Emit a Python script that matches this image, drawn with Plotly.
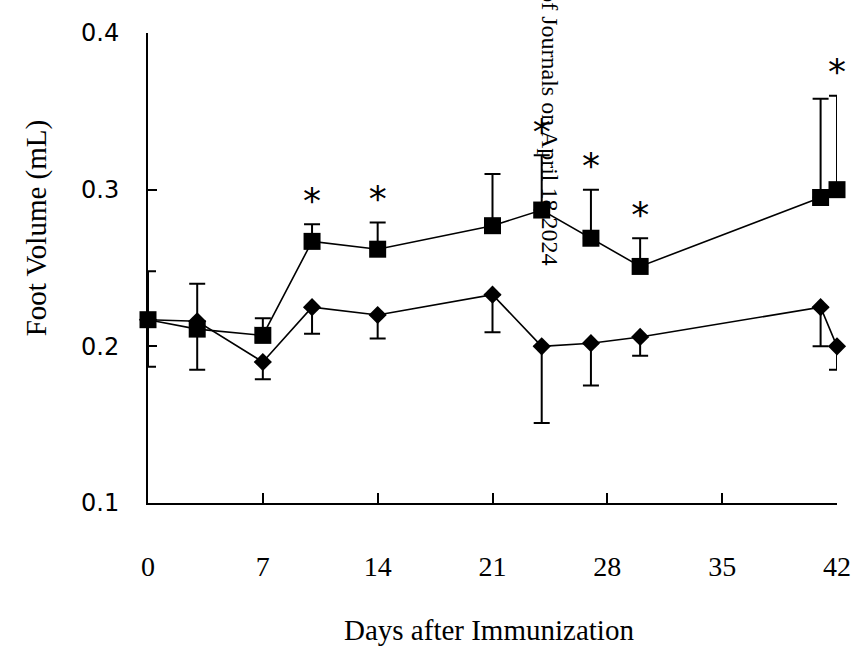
import plotly.graph_objects as go

# Data
sq_days = [0, 3, 7, 10, 14, 21, 24, 27, 30, 41, 42]
sq_vals = [0.217, 0.211, 0.207, 0.267, 0.262, 0.277, 0.287, 0.269, 0.251, 0.295, 0.300]
sq_err_up = [0.031, 0.029, 0.011, 0.011, 0.017, 0.033, 0.035, 0.031, 0.018, 0.063, 0.060]

dm_days = [0, 3, 7, 10, 14, 21, 24, 27, 30, 41, 42]
dm_vals = [0.217, 0.216, 0.190, 0.225, 0.220, 0.233, 0.200, 0.202, 0.206, 0.225, 0.200]
dm_err_dn = [0.030, 0.031, 0.011, 0.017, 0.015, 0.024, 0.049, 0.027, 0.012, 0.025, 0.015]

star_days = [10, 14, 24, 27, 30, 42]

x_ticks = [0, 7, 14, 21, 28, 35, 42]
y_ticks = [0.1, 0.2, 0.3, 0.4]
y_tick_text = ["0.1", "0.2", "0.3", "0.4"]

star_y = [sq_vals[sq_days.index(d)] + sq_err_up[sq_days.index(d)] + 0.013 for d in star_days]

W, H = 863, 649
ML, MR, MT, MB = 148, 18, 33, 146
pw = W - ML - MR
ph = H - MT - MB


def px(x):
    return (x - ML) / pw


def py(y):
    return (H - MB - y) / ph


fig = go.Figure()

fig.add_trace(go.Scatter(
    x=dm_days, y=dm_vals, mode="lines+markers",
    line=dict(color="black", width=1.6),
    marker=dict(symbol="diamond", size=14, color="black"),
    error_y=dict(type="data", symmetric=False, array=[0]*len(dm_err_dn),
                 arrayminus=dm_err_dn, color="black", thickness=2, width=8),
    cliponaxis=False, showlegend=False))

fig.add_trace(go.Scatter(
    x=sq_days, y=sq_vals, mode="lines+markers",
    line=dict(color="black", width=1.6),
    marker=dict(symbol="square", size=17, color="black"),
    error_y=dict(type="data", symmetric=False, array=sq_err_up,
                 arrayminus=[0]*len(sq_err_up), color="black", thickness=2, width=8),
    cliponaxis=False, showlegend=False))

fig.add_trace(go.Scatter(
    x=star_days, y=star_y, mode="text", text=["*"]*len(star_days),
    textfont=dict(family="DejaVu Sans", size=36, color="black"),
    textposition="middle center", cliponaxis=False, showlegend=False))

fig.update_layout(
    width=W, height=H,
    margin=dict(l=ML, r=MR, t=MT, b=MB),
    paper_bgcolor="white", plot_bgcolor="white",
    xaxis=dict(range=[0, 42], tickvals=x_ticks, ticks="inside", ticklen=10,
               tickwidth=1.5, tickcolor="black", showline=True, linecolor="black",
               linewidth=2, showgrid=False, zeroline=False,
               ticklabelstandoff=37,
               tickfont=dict(family="Liberation Serif", size=28, color="black")),
    yaxis=dict(range=[0.1, 0.4], tickvals=y_ticks, ticktext=y_tick_text,
               ticks="inside", ticklen=9, tickwidth=2, tickcolor="black",
               showline=True, linecolor="black", linewidth=2, showgrid=False,
               zeroline=False, ticklabelstandoff=22,
               tickfont=dict(family="DejaVu Sans", size=24, color="black")),
    annotations=[
        dict(text="Days after Immunization", x=px(493), y=py(630), xref="paper", yref="paper",
             xanchor="center", yanchor="middle", showarrow=False,
             font=dict(family="Liberation Serif", size=29, color="black")),
        dict(text="Foot Volume (mL)", x=px(35), y=py(228), xref="paper", yref="paper",
             xanchor="center", yanchor="middle", textangle=-90, showarrow=False,
             font=dict(family="Liberation Serif", size=29, color="black")),
        dict(text="of Journals on April 18 2024", x=px(555), y=py(0), xref="paper", yref="paper",
             xanchor="center", yanchor="top", yshift=12, textangle=90, showarrow=False,
             font=dict(family="Liberation Serif", size=24, color="black")),
    ],
)

fig.write_html("out.html", config={"displayModeBar": False},
               post_script="document.body.style.margin='0px';")
